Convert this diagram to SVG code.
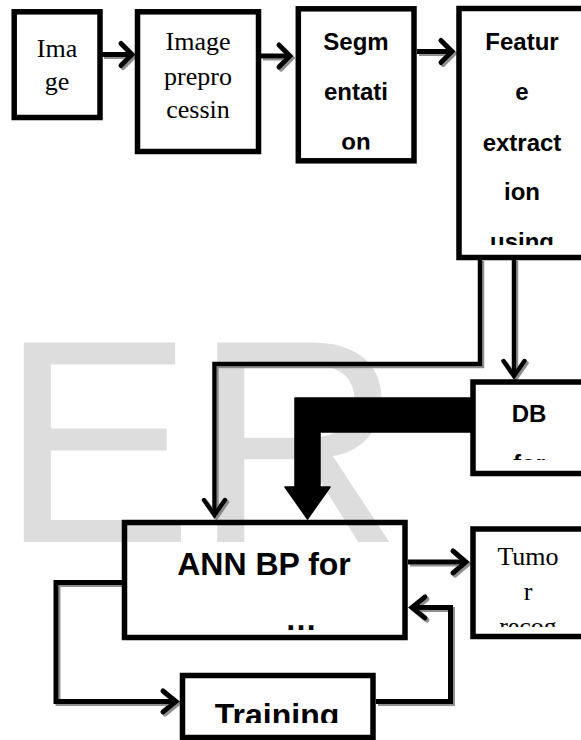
<svg xmlns="http://www.w3.org/2000/svg" width="581" height="740" viewBox="0 0 581 740">
<style>
.box{fill:none;stroke:#000;stroke-width:5.5}
.serif{font-family:"Liberation Serif","DejaVu Serif",serif;font-size:26px;fill:#000;text-anchor:middle}
.bold{font-family:"Liberation Sans",Arial,sans-serif;font-weight:bold;font-size:24px;fill:#000;text-anchor:middle}
.big{font-family:"Liberation Sans",Arial,sans-serif;font-weight:bold;font-size:32px;fill:#000;text-anchor:middle}
.ln{fill:none;stroke:#000;stroke-width:5;stroke-linejoin:miter}
.th{fill:none;stroke:#000;stroke-width:4.5;stroke-linejoin:miter}
.hd{fill:none;stroke:#000;stroke-width:5;stroke-linecap:round;stroke-linejoin:miter}
</style>
<defs>
<filter id="sh" x="-10%" y="-10%" width="130%" height="130%">
<feDropShadow dx="2" dy="2" stdDeviation="0.6" flood-color="#7a7a7a" flood-opacity="0.85"/>
</filter>
<clipPath id="cSeg"><rect x="300" y="11" width="112" height="138.5"/></clipPath>
<clipPath id="cFeat"><rect x="461" y="11" width="120" height="234"/></clipPath>
<clipPath id="cDB"><rect x="475" y="385" width="106" height="75"/></clipPath>
<clipPath id="cTum"><rect x="476" y="532" width="105" height="95"/></clipPath>
<clipPath id="cANN"><rect x="127" y="525" width="275" height="110"/></clipPath>
<clipPath id="cTr"><rect x="185" y="678" width="185" height="45"/></clipPath>
</defs>
<rect width="581" height="740" fill="#fff"/>
<text x="0" y="542" font-family="'Liberation Sans',Arial,sans-serif" font-size="290" fill="#dddddd">ER</text>

<g id="connectors">
<g filter="url(#sh)">
<path class="ln" d="M102,54.5 H131"/>
<path class="hd" d="M121,43.5 L132,54.5 L121,65.5"/>
<path class="ln" d="M261,56 H288"/>
<path class="hd" d="M279,45 L290,56 L279,67"/>
<path class="ln" d="M417,51.5 H450"/>
<path class="hd" d="M441,40.5 L452,51.5 L441,62.5"/>
<path class="th" d="M480,259 V364 H214.5 V514"/>
<path class="hd" style="stroke-width:4.5" d="M204,500 L214.5,515 L225,500"/>
<path class="th" d="M514,259 V375"/>
<path class="hd" style="stroke-width:4.5" d="M503.5,361 L514,376 L524.5,361"/>
<path class="ln" d="M408,562 H465"/>
<path class="hd" d="M453,551 L466,562 L453,573"/>
<path class="ln" d="M122,582.5 H56 V701.5 H175"/>
<path class="hd" d="M163,691 L176,701.5 L163,712"/>
<path class="ln" d="M376,701.5 H450.5 V607.5 H413"/>
<path class="hd" d="M425,597 L412,607.5 L425,618"/>
</g>
<path d="M471,398 H295 V487 H285 L307.5,519 L330,487 H320 V432 H471 Z" fill="#000" stroke="#000" stroke-width="1.5" stroke-linejoin="round"/>
</g>

<g id="image">
<rect class="box" x="14.2" y="11.8" width="85.8" height="105.7"/>
<text class="serif" x="57" y="57">Ima</text>
<text class="serif" x="57" y="90">ge</text>
</g>
<g id="preprocessing">
<rect class="box" x="137.5" y="11.8" width="121" height="139.7"/>
<text class="serif" x="198" y="50">Image</text>
<text class="serif" x="198" y="85">prepro</text>
<text class="serif" x="198" y="118">cessin</text>
</g>
<g id="segmentation">
<rect class="box" x="298.3" y="8.8" width="115.7" height="152"/>
<g clip-path="url(#cSeg)">
<text class="bold" x="356" y="50">Segm</text>
<text class="bold" x="356" y="100">entati</text>
<text class="bold" x="356" y="150">on</text>
</g>
</g>
<g id="feature">
<rect class="box" x="459" y="8.5" width="140" height="249"/>
<g clip-path="url(#cFeat)">
<text class="bold" x="522" y="50">Featur</text>
<text class="bold" x="522" y="100">e</text>
<text class="bold" x="522" y="151">extract</text>
<text class="bold" x="522" y="200">ion</text>
<text class="bold" x="522" y="250">using</text>
</g>
</g>
<g id="db">
<rect class="box" x="473" y="382" width="130" height="91.5"/>
<g clip-path="url(#cDB)">
<text class="bold" x="529" y="422">DB</text>
<text class="bold" x="529" y="472">for</text>
</g>
</g>
<g id="ann">
<rect class="box" x="124.5" y="522.5" width="280.5" height="115"/>
<g clip-path="url(#cANN)">
<text class="big" x="264" y="575">ANN BP for</text>
<text class="big" x="301" y="630">…</text>
</g>
</g>
<g id="tumor">
<rect class="box" x="473" y="529" width="130" height="107.5"/>
<g clip-path="url(#cTum)">
<text class="serif" x="528" y="565">Tumo</text>
<text class="serif" x="528" y="600">r</text>
<text class="serif" x="528" y="635">recog</text>
</g>
</g>
<g id="training">
<rect class="box" x="182.5" y="675.5" width="190.5" height="62"/>
<g clip-path="url(#cTr)">
<text class="big" x="277" y="726">Training</text>
</g>
</g>
</svg>
